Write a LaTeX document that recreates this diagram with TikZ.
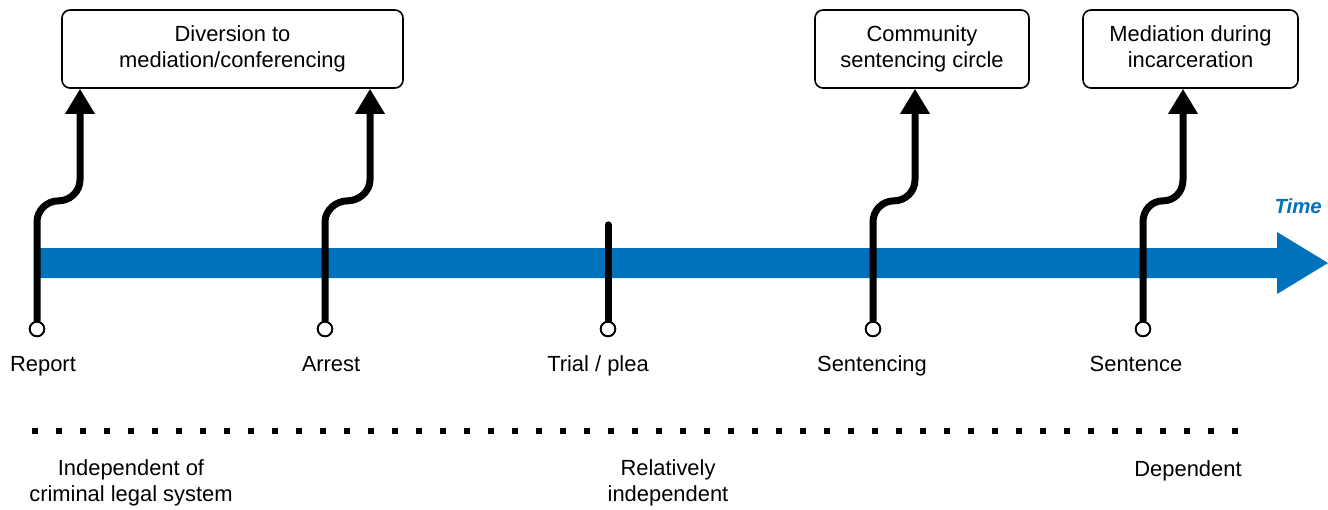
\documentclass[tikz,border=0pt]{standalone}
\usepackage{fontspec}
\setmainfont{Liberation Sans}
\usetikzlibrary{arrows.meta}
\definecolor{tblue}{RGB}{0,114,188}
\newcommand\sconn[3]{%
  \draw[conn,-{Triangle[width=28bp,length=25bp]}] (#1.north) -- ++(0,-99)
    .. controls +(0,-11.6) and +(-11.6,0) .. ++({#3/2},-21)
    .. controls +(11.6,0) and +(0,11.6) .. ++({#3/2},-21) coordinate (t)
    -- (t |- #2.south);}
\begin{document}
\begin{tikzpicture}[x=1bp,y=-1bp,
  font=\fontsize{22}{26.5}\selectfont,
  box/.style={draw,line width=1.6bp,rounded corners=8bp,align=center,inner sep=0pt},
  conn/.style={line width=7bp},
  dot/.style={circle,draw,line width=1.8bp,fill=white,minimum size=14.5bp,inner sep=0pt},
  lbl/.style={anchor=base,inner sep=0pt},
  blbl/.style={align=center,inner sep=0pt}]
\useasboundingbox (0,0) rectangle (1328,510);
% time arrow
\fill[tblue] (40,248) -- (1277,248) -- (1277,232) -- (1328,263) -- (1277,294) -- (1277,278) -- (40,278) -- cycle;
\node[anchor=base east,inner sep=0pt,text=tblue,font=\fontsize{20.5}{24}\selectfont\bfseries\itshape] (time) at (1322,214) {Time};
% boxes
\node[box,minimum width=341bp,minimum height=78bp] (b1) at (232.5,49) {Diversion to\\mediation/conferencing};
\node[box,minimum width=214bp,minimum height=78bp] (b2) at (922,49) {Community\\sentencing circle};
\node[box,minimum width=215bp,minimum height=78bp] (b3) at (1190.5,49) {Mediation during\\incarceration\vphantom{g}};
% event dots (positions)
\coordinate (p1) at (37,329);
\coordinate (p2) at (325,329);
\coordinate (p3) at (608,329);
\coordinate (p4) at (873,329);
\coordinate (p5) at (1143,329);
\node[dot] (r1) at (p1) {};
\node[dot] (r2) at (p2) {};
\node[dot] (r3) at (p3) {};
\node[dot] (r4) at (p4) {};
\node[dot] (r5) at (p5) {};
% connectors
\sconn{r1}{b1}{43}
\sconn{r2}{b1}{45}
\draw[conn,line cap=round] (r3.north) -- ++(0,-96) coordinate (t3);
\sconn{r4}{b2}{42}
\sconn{r5}{b3}{40}
% redraw dots on top
\node[dot] at (p1) {};
\node[dot] at (p2) {};
\node[dot] at (p3) {};
\node[dot] at (p4) {};
\node[dot] at (p5) {};
% labels
\node[lbl] (l1) at (43,371) {Report};
\node[lbl] (l2) at (331,371) {Arrest};
\node[lbl] (l3) at (598,371) {Trial / plea};
\node[lbl] (l4) at (872,371) {Sentencing};
\node[lbl] (l5) at (1136,371) {Sentence};
% dotted line
\draw[line width=5.5bp,dash pattern=on 5.5bp off 18.5bp] (32.25,431) -- (1238,431);
% bottom labels
\node[blbl] (d1) at (131,483) {Independent of\\criminal legal system};
\node[blbl] (d2) at (668,483) {Relatively\\independent};
\node[lbl] (d3) at (1188,476) {Dependent};
\end{tikzpicture}
\end{document}
